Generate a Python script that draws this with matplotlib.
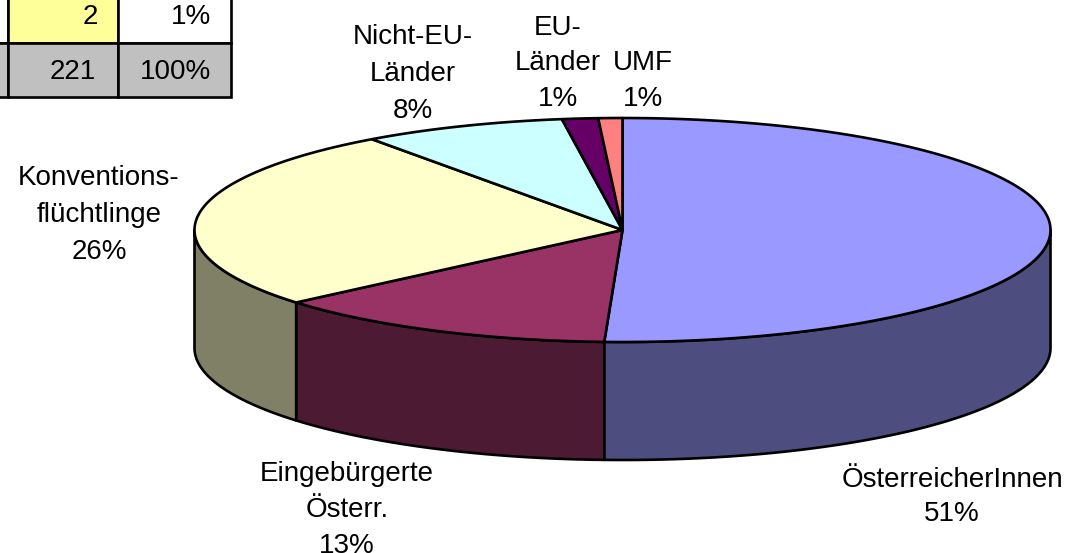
import numpy as np
import matplotlib
matplotlib.use("Agg")
import matplotlib.pyplot as plt
from matplotlib.patches import Polygon, Rectangle

plt.rcParams['font.family'] = ['Liberation Sans', 'DejaVu Sans']

# Data
categories = ["ÖsterreicherInnen", "Eingebürgerte\nÖsterr.", "Konventions-\nflüchtlinge",
              "Nicht-EU-\nLänder", "EU-\nLänder", "UMF"]
values = [112, 29, 58, 17, 3, 2]
top_colors = ["#9999FF", "#993366", "#FFFFCC", "#CCFFFF", "#660066", "#FF8080"]
side_colors = ["#4D4D80", "#4D1A33", "#808066", "#668080", "#330033", "#804040"]
table_rows = [["2", "1%"], ["221", "100%"]]
row_colors = [["#FFFF99", "#FFFFFF"], ["#C0C0C0", "#C0C0C0"]]

# Layout (pixels)
W, H = 1079, 553
cx, cy, a, b, depth = 622.5, 230, 428, 112, 118
label_pos = [(952, 497), (347, 510), (99, 215), (413, 74), (558, 63.5), (643, 81)]
label_spacing = [1.42, 1.48, 1.54, 1.54, 1.46, 1.5]
table_right_pad = [[20, 20], [22, 20]]
LW = 1.9
FS = 20

fig = plt.figure(figsize=(W / 100, H / 100), dpi=100)
ax = fig.add_axes([0, 0, 1, 1])
ax.set_xlim(0, W)
ax.set_ylim(H, 0)
ax.axis("off")


def arc(t0, t1, dy=0):
    t = np.radians(np.linspace(t0, t1, max(int(abs(t1 - t0) * 2), 2)))
    return np.column_stack([cx + a * np.sin(t), cy + dy - b * np.cos(t)])


total = sum(values)
edges = np.concatenate([[0], np.cumsum(values)]) / total * 360

# Side walls (front half only)
for i in range(len(values)):
    t0, t1 = max(edges[i], 90), min(edges[i + 1], 270)
    if t1 <= t0:
        continue
    pts = np.vstack([arc(t0, t1), arc(t0, t1, depth)[::-1]])
    ax.add_patch(Polygon(pts, closed=True, fc=side_colors[i], ec="black", lw=LW, joinstyle="round"))

# Top faces
for i in range(len(values)):
    pts = np.vstack([[[cx, cy]], arc(edges[i], edges[i + 1])])
    ax.add_patch(Polygon(pts, closed=True, fc=top_colors[i], ec="black", lw=LW, joinstyle="round"))

# Labels
for name, v, (x, y), ls in zip(categories, values, label_pos, label_spacing):
    ax.text(x, y, f"{name}\n{v / total * 100:.0f}%", ha="center", va="center",
            fontsize=FS, color="black", linespacing=ls)

# Table fragment, cut by the top edge of the picture
col_x = [-20, 8, 117.5, 231]
row_y = [-20, 42.5, 97]
for r, row in enumerate(table_rows):
    y0, y1 = row_y[r], row_y[r + 1]
    ax.add_patch(Rectangle((col_x[0], y0), col_x[1] - col_x[0], y1 - y0,
                           fc="#C0C0C0" if r == 1 else "white", ec="black", lw=LW))
    for c, txt in enumerate(row):
        x0, x1 = col_x[c + 1], col_x[c + 2]
        ax.add_patch(Rectangle((x0, y0), x1 - x0, y1 - y0, fc=row_colors[r][c], ec="black", lw=LW))
        ax.text(x1 - table_right_pad[r][c], 17 if r == 0 else 72, txt, ha="right", va="center",
                fontsize=FS, color="black")

fig.savefig("out.png", dpi=100)
